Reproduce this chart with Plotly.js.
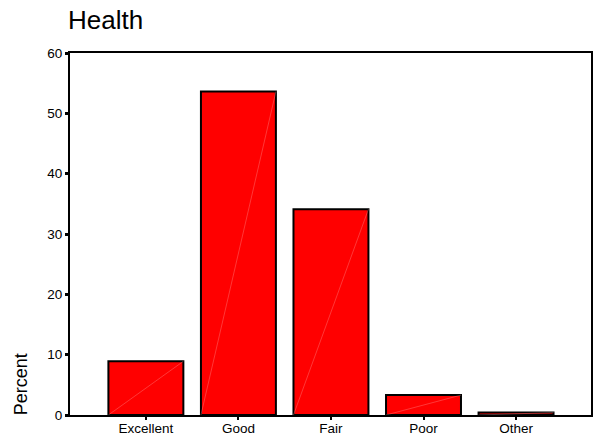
<!DOCTYPE html>
<html>
<head>
<meta charset="utf-8">
<script src="https://cdn.plot.ly/plotly-3.0.1.min.js"></script>
<style>html,body{margin:0;padding:0;background:#fff;}#chart{width:593px;height:437px;}</style>
</head>
<body>
<div id="chart"></div>
<script>
var categories = ["Excellent", "Good", "Fair", "Poor", "Other"];
var percents = [8.9, 53.6, 34.1, 3.3, 0.4];
var yTicks = [0, 10, 20, 30, 40, 50, 60];
var chartTitle = "Health";
var yLabel = "Percent";

var barWidth = 0.81;
var FONT = "Liberation Sans, Arial, sans-serif";

// faint diagonal lines inside each bar (rendering artifact of the original), derived from data
var dx = [], dy = [];
for (var i = 0; i < percents.length; i++) {
  dx.push(i - barWidth / 2, i + barWidth / 2, null);
  dy.push(0, percents[i], null);
}

var traces = [
  {
    type: "bar",
    x: categories.map(function (c, i) { return i; }),
    y: percents,
    width: barWidth,
    marker: { color: "#ff0000", line: { color: "#000000", width: 2 } },
    hoverinfo: "skip"
  },
  {
    type: "scatter",
    mode: "lines",
    x: dx,
    y: dy,
    line: { color: "rgba(255,170,170,0.55)", width: 0.6 },
    hoverinfo: "skip",
    cliponaxis: true
  }
];

var layout = {
  width: 593,
  height: 437,
  margin: { l: 70, r: 2, t: 53, b: 22 },
  paper_bgcolor: "#ffffff",
  plot_bgcolor: "#ffffff",
  showlegend: false,
  font: { family: FONT, color: "#000000", size: 13 },
  title: {
    text: chartTitle,
    font: { family: FONT, size: 26, color: "#000000" },
    xref: "container", x: 68 / 593, xanchor: "left",
    yref: "container", y: 1 - 11 / 437, yanchor: "top"
  },
  xaxis: {
    range: [-0.82, 4.81],
    tickmode: "array",
    tickvals: categories.map(function (c, i) { return i; }),
    ticktext: categories,
    ticks: "outside", ticklen: 3, tickwidth: 2, tickcolor: "#000",
    ticklabelstandoff: -3,
    showline: true, linecolor: "#000", linewidth: 2, mirror: true,
    showgrid: false, zeroline: false,
    tickfont: { family: FONT, size: 13.5, color: "#000" },
    fixedrange: true
  },
  yaxis: {
    range: [0, 60],
    tickmode: "array",
    tickvals: yTicks,
    ticktext: yTicks.map(String),
    ticks: "outside", ticklen: 3, tickwidth: 3, tickcolor: "#000",
    showline: true, linecolor: "#000", linewidth: 2, mirror: true,
    showgrid: false, zeroline: false,
    tickfont: { family: FONT, size: 13.5, color: "#000" },
    fixedrange: true
  },
  annotations: [
    {
      text: yLabel,
      textangle: -90,
      xref: "paper", yref: "paper",
      x: -0.094, y: -0.006,
      xanchor: "center", yanchor: "bottom",
      showarrow: false,
      font: { family: FONT, size: 18, color: "#000" }
    }
  ]
};

Plotly.newPlot("chart", traces, layout, { displayModeBar: false, staticPlot: true });
</script>
</body>
</html>
